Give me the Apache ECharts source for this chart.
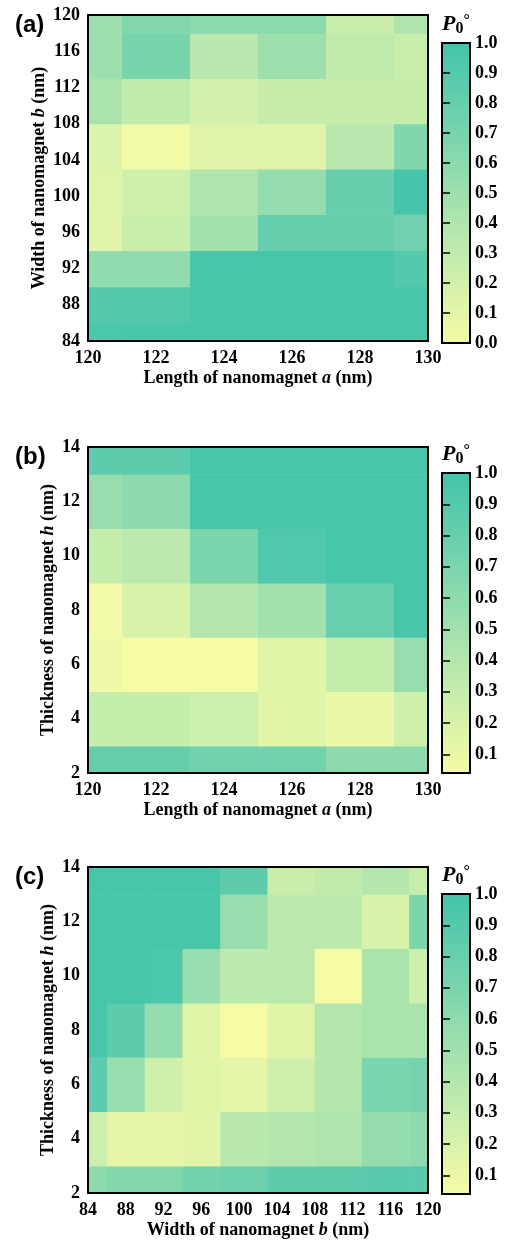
<!DOCTYPE html>
<html>
<head>
<meta charset="utf-8">
<script src="https://cdn.jsdelivr.net/npm/echarts@6/dist/echarts.min.js"></script>
<style>
  html, body { margin: 0; padding: 0; background: #fff; }
  #chart { width: 510px; height: 1241px; }
</style>
</head>
<body>
<div id="chart"></div>
<script>
// sample positions (nm)
const lengthA = [120, 122, 124, 126, 128, 130]
const widthB = [84, 88, 92, 96, 100, 106, 110, 116, 120]
const thickH = [2, 4, 6, 8, 10, 12, 14]

// P0 per cell, one row per y sample (bottom row first)
// (a) rows = widthB, cols = lengthA
const pAB = [
  [0.95, 0.97, 0.97, 0.97, 0.97, 0.97],
  [0.90, 0.91, 0.97, 0.97, 0.97, 0.97],
  [0.57, 0.57, 0.97, 0.97, 0.97, 0.90],
  [0.12, 0.25, 0.47, 0.80, 0.80, 0.75],
  [0.13, 0.22, 0.40, 0.55, 0.80, 0.98],
  [0.15, 0.02, 0.13, 0.13, 0.35, 0.66],
  [0.43, 0.30, 0.20, 0.27, 0.27, 0.27],
  [0.50, 0.70, 0.35, 0.50, 0.30, 0.25],
  [0.50, 0.65, 0.60, 0.60, 0.25, 0.40]
]
// (b) rows = thickH, cols = lengthA
const pAH = [
  [0.82, 0.82, 0.75, 0.75, 0.60, 0.60],
  [0.30, 0.30, 0.27, 0.15, 0.10, 0.25],
  [0.08, 0.03, 0.03, 0.15, 0.30, 0.55],
  [0.06, 0.20, 0.40, 0.50, 0.80, 0.97],
  [0.30, 0.35, 0.70, 0.93, 0.97, 0.97],
  [0.55, 0.60, 0.97, 0.97, 0.97, 0.97],
  [0.85, 0.85, 0.97, 0.97, 0.97, 0.97]
]
// (c) rows = thickH, cols = widthB
const pBH = [
  [0.60, 0.66, 0.66, 0.75, 0.77, 0.85, 0.85, 0.88, 0.88],
  [0.27, 0.13, 0.13, 0.15, 0.37, 0.40, 0.43, 0.57, 0.60],
  [0.85, 0.55, 0.25, 0.15, 0.13, 0.25, 0.40, 0.70, 0.72],
  [0.97, 0.85, 0.58, 0.15, 0.04, 0.15, 0.40, 0.45, 0.45],
  [0.97, 0.97, 0.95, 0.55, 0.35, 0.35, 0.03, 0.45, 0.27],
  [0.97, 0.97, 0.97, 0.97, 0.55, 0.35, 0.35, 0.20, 0.70],
  [0.97, 0.97, 0.97, 0.97, 0.85, 0.28, 0.33, 0.40, 0.28]
]

// colour bar tick labels
const cbTicksA = [0.0, 0.1, 0.2, 0.3, 0.4, 0.5, 0.6, 0.7, 0.8, 0.9, 1.0]
const cbTicksBC = [0.1, 0.2, 0.3, 0.4, 0.5, 0.6, 0.7, 0.8, 0.9, 1.0]

const cmap = ['#F6FBA6', '#C9EEAC', '#9EDFAE', '#6FD1AD', '#42C4AA']
const serif = 'Liberation Serif'

const panels = [
  {
    tag: '(a)', xs: lengthA, ys: widthB, values: pAB,
    xName: 'Length of nanomagnet {i|a} (nm)', yName: 'Width of nanomagnet {i|b} (nm)',
    xMin: 120, xMax: 130, xStep: 2, yMin: 84, yMax: 120, yStep: 4,
    top: 15, cbTop: 43, cbMin: 0, cbTicks: cbTicksA, yGap: 40
  },
  {
    tag: '(b)', xs: lengthA, ys: thickH, values: pAH,
    xName: 'Length of nanomagnet {i|a} (nm)', yName: 'Thickness of nanomagnet {i|h} (nm)',
    xMin: 120, xMax: 130, xStep: 2, yMin: 2, yMax: 14, yStep: 2,
    top: 447, cbTop: 473, cbMin: 0.04, cbTicks: cbTicksBC, yGap: 31
  },
  {
    tag: '(c)', xs: widthB, ys: thickH, values: pBH,
    xName: 'Width of nanomagnet {i|b} (nm)', yName: 'Thickness of nanomagnet {i|h} (nm)',
    xMin: 84, xMax: 120, xStep: 4, yMin: 2, yMax: 14, yStep: 2,
    top: 867, cbTop: 894, cbMin: 0.04, cbTicks: cbTicksBC, yGap: 31
  }
]

// cell edges halfway between neighbouring samples
function edges (arr) {
  return arr.map((v, i) => [
    i === 0 ? v : (arr[i - 1] + v) / 2,
    i === arr.length - 1 ? v : (v + arr[i + 1]) / 2
  ])
}

function cells (xs, ys, values) {
  const ex = edges(xs)
  const ey = edges(ys)
  const out = []
  values.forEach((row, j) => {
    row.forEach((v, i) => {
      out.push([ex[i][0], ex[i][1], ey[j][0], ey[j][1], v])
    })
  })
  return out
}

function renderCell (params, api) {
  const p0 = api.coord([api.value(0), api.value(3)])
  const p1 = api.coord([api.value(1), api.value(2)])
  return {
    type: 'rect',
    shape: { x: p0[0], y: p0[1], width: p1[0] - p0[0] + 0.6, height: p1[1] - p0[1] + 0.6 },
    style: { fill: api.visual('color') }
  }
}

function renderBar (params, api) {
  const p0 = api.coord([0, api.value(1)])
  const p1 = api.coord([1, api.value(0)])
  const stops = cmap.map((c, i) => ({ offset: 1 - i / (cmap.length - 1), color: c }))
  return {
    type: 'rect',
    shape: { x: p0[0], y: p0[1], width: p1[0] - p0[0], height: p1[1] - p0[1] },
    style: { fill: new echarts.graphic.LinearGradient(0, 0, 0, 1, stops) }
  }
}

const tickFont = { color: '#000', fontFamily: serif, fontWeight: 'bold', fontSize: 18 }
const nameFont = {
  color: '#000', fontFamily: serif, fontWeight: 'bold', fontSize: 18,
  rich: { i: { fontFamily: serif, fontWeight: 'bold', fontStyle: 'italic', fontSize: 18, color: '#000' } }
}
const cbTick = { length: 4, lineStyle: { color: '#000', width: 1.5 } }

const grid = []
const xAxis = []
const yAxis = []
const heatSeries = []
const barSeries = []
const visualMap = []
const title = []

panels.forEach((p, k) => {
  grid.push({
    left: 88, top: p.top, width: 340, height: 326,
    show: true, borderColor: '#000', borderWidth: 2, backgroundColor: 'transparent', z: 10,
    outerBoundsMode: 'none'
  })
  grid.push({
    left: 442, top: p.cbTop, width: 28, height: 300,
    show: true, borderColor: '#000', borderWidth: 2, backgroundColor: 'transparent', z: 10,
    outerBoundsMode: 'none'
  })

  xAxis.push({
    type: 'value', gridIndex: 2 * k, min: p.xMin, max: p.xMax, interval: p.xStep,
    axisLine: { show: false }, axisTick: { show: false }, splitLine: { show: false },
    axisLabel: Object.assign({ margin: 8 }, tickFont),
    name: p.xName, nameLocation: 'middle', nameGap: 28, nameMoveOverlap: false, nameTextStyle: nameFont
  })
  xAxis.push({ type: 'value', gridIndex: 2 * k + 1, min: 0, max: 1, show: false })

  yAxis.push({
    type: 'value', gridIndex: 2 * k, min: p.yMin, max: p.yMax, interval: p.yStep,
    axisLine: { show: false }, axisTick: { show: false }, splitLine: { show: false },
    axisLabel: Object.assign({ margin: 8 }, tickFont),
    name: p.yName, nameLocation: 'middle', nameGap: p.yGap, nameMoveOverlap: false, nameTextStyle: nameFont
  })
  // right side of the colour bar: labels, ticks pulled inside with a negative offset
  yAxis.push({
    type: 'value', gridIndex: 2 * k + 1, position: 'right', offset: -4, min: p.cbMin, max: 1, z: 20,
    axisLine: { show: false }, splitLine: { show: false },
    axisTick: Object.assign({ customValues: p.cbTicks }, cbTick),
    axisLabel: Object.assign({ margin: 9, customValues: p.cbTicks, formatter: v => v.toFixed(1) }, tickFont)
  })
  yAxis.push({
    type: 'value', gridIndex: 2 * k + 1, position: 'left', offset: -4, min: p.cbMin, max: 1, z: 20,
    axisLine: { show: false }, splitLine: { show: false }, axisLabel: { show: false },
    axisTick: Object.assign({ customValues: p.cbTicks }, cbTick)
  })

  heatSeries.push({
    type: 'custom', xAxisIndex: 2 * k, yAxisIndex: 3 * k, clip: true, z: 1,
    encode: { x: [0, 1], y: [2, 3] },
    renderItem: renderCell,
    data: cells(p.xs, p.ys, p.values)
  })
  barSeries.push({
    type: 'custom', xAxisIndex: 2 * k + 1, yAxisIndex: 3 * k + 1, silent: true, z: 1,
    encode: { y: [0, 1] },
    renderItem: renderBar,
    data: [[p.cbMin, 1]]
  })

  visualMap.push({
    type: 'continuous', show: false, seriesIndex: k, dimension: 4,
    min: p.cbMin, max: 1, inRange: { color: cmap }
  })

  title.push({
    text: p.tag, left: 15, top: p.top - 2, padding: 0,
    textStyle: { fontFamily: 'Liberation Sans', fontWeight: 'bold', fontSize: 24, color: '#000' }
  })
  title.push({
    text: '{p|P}{s|0}{d|°}', left: 442, top: p.cbTop - 30, padding: 0,
    textStyle: {
      rich: {
        p: { fontFamily: serif, fontStyle: 'italic', fontWeight: 'bold', fontSize: 22, color: '#000', verticalAlign: 'top' },
        s: { fontFamily: serif, fontWeight: 'bold', fontSize: 16, color: '#000', verticalAlign: 'bottom', padding: [8, 0, 0, 0] },
        d: { fontFamily: serif, fontWeight: 'bold', fontSize: 16, color: '#000', verticalAlign: 'top' }
      }
    }
  })
})

const chart = echarts.init(document.getElementById('chart'))
chart.setOption({
  animation: false,
  backgroundColor: '#fff',
  title: title,
  grid: grid,
  xAxis: xAxis,
  yAxis: yAxis,
  visualMap: visualMap,
  series: heatSeries.concat(barSeries)
})
</script>
</body>
</html>
